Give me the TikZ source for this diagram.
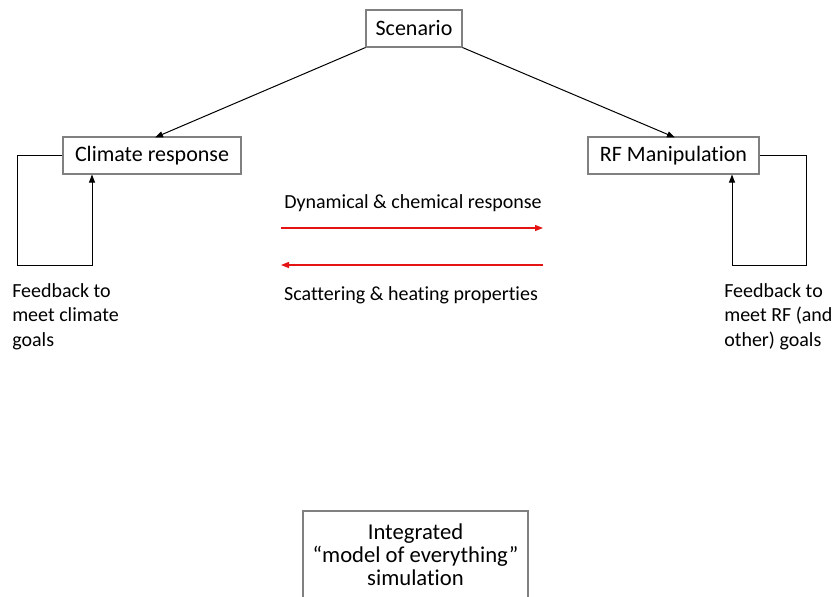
\documentclass[tikz,border=0pt]{standalone}
\usepackage{fontspec}
\setmainfont[Ligatures=NoCommon]{Carlito}
\usetikzlibrary{arrows.meta}
\definecolor{boxgray}{RGB}{128,128,128}
\definecolor{arrred}{RGB}{228,20,20}
\begin{document}
\begin{tikzpicture}[x=0.75pt,y=-0.75pt,
  box/.style={draw=boxgray, line width=0.8pt, inner sep=0pt, minimum height=27.75pt, font=\fontsize{16.5}{20}\selectfont},
  conn/.style={draw=black, line width=0.75pt, -{Triangle[length=6pt,width=4.5pt]}},
  redarr/.style={draw=arrred, line width=1pt, -{Triangle[length=6pt,width=4.5pt]}},
  lbl/.style={font=\fontsize{15}{18.5}\selectfont, inner sep=0pt},
  biglbl/.style={font=\fontsize{17}{17.3}\selectfont, inner sep=0pt}]
\useasboundingbox (0,0) rectangle (833,597);
\fill[white] (0,0) rectangle (833,597);
% boxes
\node[box, minimum width=72pt] (scen) at (414,28.5) {Scenario};
\node[box, minimum width=133.5pt] (clim) at (152,155.5) {Climate response};
\node[box, minimum width=128.25pt] (rf) at (673.5,155.5) {RF Manipulation};
% top connectors
\draw[conn] (scen.south west) -- (155,137.5);
\draw[conn] (scen.south east) -- (675,137.5);
% left feedback loop
\coordinate (l1) at (17,155.5);
\coordinate (l2) at (17,265);
\coordinate (l3) at (92,265);
\draw[conn] (clim.west) -- (l1) -- (l2) -- (l3) -- (l3 |- clim.south);
% right feedback loop
\coordinate (r1) at (806,155.5);
\coordinate (r2) at (806,265);
\coordinate (r3) at (732,265);
\draw[conn] (rf.east) -- (r1) -- (r2) -- (r3) -- (r3 |- rf.south);
% red arrows
\coordinate (ta) at (281,228);
\coordinate (tb) at (543,228);
\coordinate (ba) at (543,265);
\coordinate (bb) at (281,265);
\draw[redarr] (ta) -- (tb);
\draw[redarr] (ba) -- (bb);
\node[lbl] (dyn) at (413,203) {Dynamical \& chemical response};
\node[lbl] (scat) at (411,295) {Scattering \& heating properties};
% feedback labels
\node[lbl, anchor=north west, align=left] (fl) at (12,283) {Feedback to\\meet climate\\goals};
\node[lbl, anchor=north west, align=left] (fr) at (724,283) {Feedback to\\meet RF (and\\other) goals};
% integrated box (bottom cut off)
\node[biglbl, align=center] (integ) at (415.5,555) {Integrated\\“model of everything”\\simulation};
\draw[boxgray, line width=0.8pt] (303,605) -- (303,511) -- (528,511) -- (528,605);
\end{tikzpicture}
\end{document}
